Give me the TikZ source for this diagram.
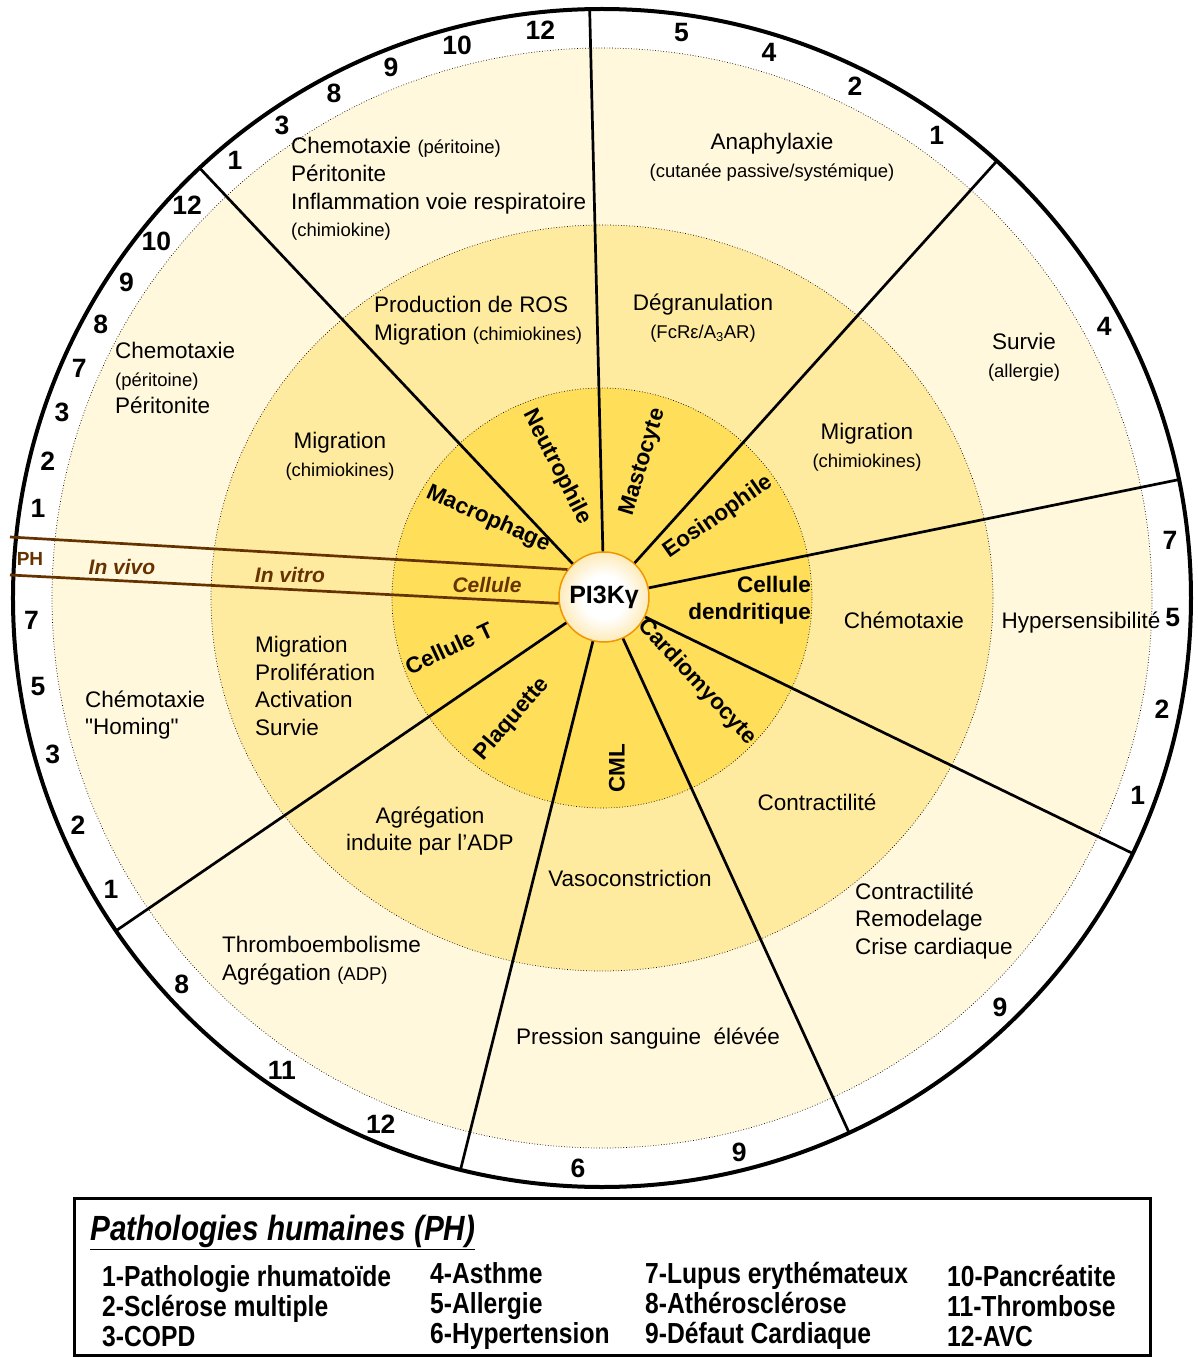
\documentclass[tikz,border=0pt]{standalone}
\usepackage{fontspec}
\setmainfont{Liberation Sans}
\newfontfamily\droit{Liberation Sans}
\newfontfamily\narrowfont[FakeStretch=0.85]{Liberation Sans}

\definecolor{creme}{RGB}{255,248,220}
\definecolor{vitro}{RGB}{255,235,160}
\definecolor{cellule}{RGB}{255,222,90}
\definecolor{brun}{RGB}{102,51,0}
\definecolor{pikor}{RGB}{250,195,50}
\definecolor{pikbord}{RGB}{240,150,0}
\pgfdeclareradialshading{pikfond}{\pgfpoint{0bp}{0bp}}{color(0bp)=(white); color(12bp)=(white); color(50bp)=(pikor); color(100bp)=(pikor)}

\newcommand{\petit}[1]{{\fontsize{18.5}{22}\selectfont #1}}

\begin{document}
\begin{tikzpicture}[x=1pt, y=1pt,
  num/.style={font=\bfseries\fontsize{26.5}{26.5}\selectfont, inner sep=0pt},
  txt/.style={font=\fontsize{22.5}{27.7}\selectfont, inner sep=0pt, align=center},
  txtl/.style={txt, align=left, anchor=west},
  cellname/.style={font=\bfseries\fontsize{22.5}{27}\selectfont, inner sep=0pt},
  brunlab/.style={font=\bfseries\itshape\fontsize{21}{25}\selectfont, text=brun, inner sep=0pt},
  spoke/.style={line width=2.7pt},
  phline/.style={line width=2.7pt, draw=brun},
  ring/.style={dotted, line width=0.7pt},
  legende/.style={font=\narrowfont\bfseries\fontsize{29}{30}\selectfont, inner sep=0pt, align=left, anchor=west}]

  \useasboundingbox (-602,598) rectangle (596,-760);

  % 圆环
  \draw[line width=4pt, fill=white] (0,0) circle (589);
  \draw[ring, fill=creme] (0,0) circle (550);
  \draw[ring, fill=vitro] (0,0) ellipse (391 and 373);
  \draw[ring, fill=cellule] (0,0) circle (210);

  % 中心 PI3K
  \node[circle, draw=pikbord, line width=1.5pt, shade, shading=pikfond,
        minimum size=90, inner sep=0pt, font=\bfseries\fontsize{25}{25}\selectfont]
        (pik) at (2,1) {PI3Kγ};

  % 辐条
  \foreach \a [count=\i] in {91.2,133.1,47.9,11.6,-25.7,-65.2,256.1,214.4}
    \coordinate (s\i) at (\a:589);
  \foreach \i in {1,...,8}
    \draw[spoke] (pik) -- (s\i);

  % PH / In vivo / In vitro / Cellule 带
  \coordinate (ph1) at (-592,61);
  \coordinate (ph2) at (-592,23);
  \draw[phline] (ph1) -- (pik.143);
  \draw[phline] (ph2) -- (pik.188);

  % 外圈数字
  \foreach \a/\t [count=\i] in {130/1, 124.1/3, 118/8, 111.7/9, 104.7/10, 96.2/12,
      82/5, 73/4, 63.7/2, 54.1/1, 28.4/4, 5.8/7, -2/5, -11.2/2, -20.2/1,
      -45.8/9, -76.1/9, -92.4/6, 247.2/12, 235.9/11, 222.6/8,
      210.7/1, 203.4/2, 195.9/3, 188.9/5, 182.2/7,
      171/1, 166.1/2, 161/3, 156.3/7, 151.4/8, 146.4/9, 141.3/10, 136.6/12}
    \node[num] (n\i) at (\a:571) {\t};
  \node[font=\bfseries\fontsize{19}{19}\selectfont, text=brun, inner sep=0pt] (ph) at (-572,39) {PH};

  % In vivo
  \node[txtl] (t1) at (-311,409) {Chemotaxie \petit{(péritoine)}\\Péritonite\\Inflammation voie respiratoire\\\petit{(chimiokine)}};
  \node[txt] (t2) at (170,441) {Anaphylaxie\\\petit{(cutanée passive/systémique)}};
  \node[txt] (t3) at (422,241) {Survie\\\petit{(allergie)}};
  \node[txt] (t4) at (479,-25) {Hypersensibilité};
  \node[txtl] (t5) at (253,-323) {Contractilité\\Remodelage\\Crise cardiaque};
  \node[txt] (t6) at (46,-441) {Pression sanguine\ \ élévée};
  \node[txtl] (t7) at (-380,-363) {Thromboembolisme\\Agrégation \petit{(ADP)}};
  \node[txtl, font=\droit\fontsize{22.5}{27.7}\selectfont] (t8) at (-517,-117) {Chémotaxie\\"Homing"};
  \node[txtl] (t9) at (-487,220) {Chemotaxie\\\petit{(péritoine)}\\Péritonite};
  \node[brunlab] (vivo) at (-480,31) {In vivo};

  % In vitro
  \node[txtl] (m1) at (-228,277) {Production de ROS\\Migration \petit{(chimiokines)}};
  \node[txt] (m2) at (101,280) {Dégranulation\\\petit{(FcRε/A\textsubscript{3}AR)}};
  \node[txt] (m3) at (265,151) {Migration\\\petit{(chimiokines)}};
  \node[txt] (m4) at (302,-22) {Chémotaxie};
  \node[txt] (m5) at (215,-204) {Contractilité};
  \node[txt] (m6) at (28,-280) {Vasoconstriction};
  \node[txt] (m7) at (-172,-233) {Agrégation\\induite par l’ADP};
  \node[txtl] (m8) at (-347,-88) {Migration\\Prolifération\\Activation\\Survie};
  \node[txt] (m9) at (-262,142) {Migration\\\petit{(chimiokines)}};
  \node[brunlab] (vitro) at (-312,23) {In vitro};

  % 细胞
  \node[cellname, rotate=-63] (c1) at (-45,131) {Neutrophile};
  \node[cellname, rotate=73] (c2) at (41,136) {Mastocyte};
  \node[cellname, rotate=-24] (c3) at (-114,79) {Macrophage};
  \node[cellname, rotate=35] (c4) at (116,81) {Eosinophile};
  \node[cellname, align=right, anchor=east] (c5) at (209,-2) {Cellule\\dendritique};
  \node[cellname, rotate=25] (c6) at (-153,-50) {Cellule T};
  \node[cellname, rotate=49] (c7) at (-90,-121) {Plaquette};
  \node[cellname, rotate=90] (c8) at (15,-170) {CML};
  \node[cellname, rotate=-47] (c9) at (95,-84) {Cardiomyocyte};
  \node[brunlab] (cel) at (-115,13) {Cellule};

  % 图例
  \draw[line width=3pt] (-527,-600) rectangle (548,-757);
  \node[legende, font=\narrowfont\bfseries\itshape\fontsize{35}{35}\selectfont] (titre) at (-512,-634) {\underline{Pathologies humaines (PH)}};
  \node[legende] (l1) at (-500,-708) {1-Pathologie rhumatoïde\\2-Sclérose multiple\\3-COPD};
  \node[legende] (l2) at (-172,-708) {4-Asthme\\5-Allergie\\6-Hypertension};
  \node[legende] (l3) at (43,-708) {7-Lupus erythémateux\\8-Athérosclérose\\9-Défaut Cardiaque};
  \node[legende] (l4) at (345,-708) {10-Pancréatite\\11-Thrombose\\12-AVC};

\end{tikzpicture}
\end{document}
